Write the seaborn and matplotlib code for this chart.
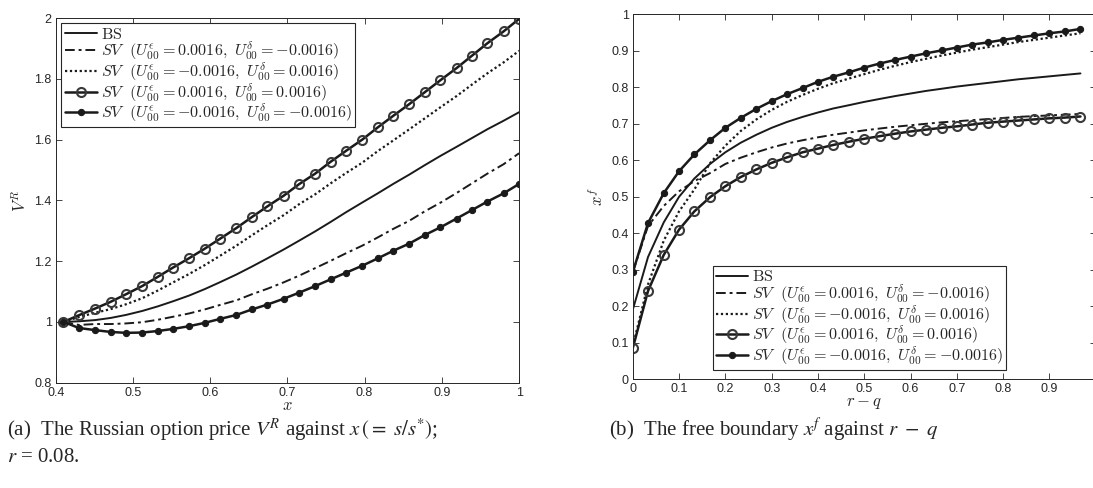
import matplotlib
matplotlib.use('Agg')
import matplotlib.pyplot as plt
import seaborn as sns
import pandas as pd

# (a) Russian option price V^R against x
x_left = [0.410, 0.430, 0.451, 0.471, 0.491, 0.512, 0.532, 0.552, 0.573, 0.593,
          0.613, 0.634, 0.654, 0.674, 0.695, 0.715, 0.736, 0.756, 0.776, 0.797,
          0.817, 0.837, 0.858, 0.878, 0.898, 0.919, 0.939, 0.959, 0.980, 1.000]
vr_bs = [1.000, 1.002, 1.006, 1.013, 1.023, 1.036, 1.051, 1.068, 1.087, 1.108,
         1.131, 1.156, 1.182, 1.209, 1.238, 1.267, 1.298, 1.329, 1.361, 1.393,
         1.423, 1.454, 1.485, 1.516, 1.546, 1.576, 1.605, 1.634, 1.662, 1.690]
vr_pm = [1.000, 0.990, 0.993, 0.993, 0.995, 0.999, 1.007, 1.017, 1.028, 1.041,
         1.056, 1.071, 1.091, 1.109, 1.130, 1.152, 1.177, 1.201, 1.226, 1.251,
         1.278, 1.306, 1.333, 1.364, 1.392, 1.424, 1.456, 1.488, 1.519, 1.555]
vr_mp = [1.000, 1.016, 1.030, 1.042, 1.058, 1.078, 1.103, 1.130, 1.158, 1.187,
         1.218, 1.251, 1.285, 1.318, 1.351, 1.387, 1.420, 1.456, 1.490, 1.524,
         1.562, 1.597, 1.634, 1.670, 1.706, 1.743, 1.781, 1.818, 1.854, 1.892]
vr_pp = [1.000, 1.022, 1.044, 1.066, 1.091, 1.118, 1.148, 1.179, 1.210, 1.241,
         1.274, 1.309, 1.345, 1.380, 1.415, 1.453, 1.488, 1.527, 1.563, 1.600,
         1.640, 1.678, 1.717, 1.756, 1.795, 1.835, 1.876, 1.917, 1.956, 1.997]
vr_mm = [1.000, 0.980, 0.973, 0.967, 0.964, 0.965, 0.970, 0.977, 0.986, 0.997,
         1.010, 1.023, 1.041, 1.057, 1.076, 1.096, 1.118, 1.140, 1.162, 1.185,
         1.209, 1.234, 1.258, 1.286, 1.311, 1.340, 1.368, 1.396, 1.423, 1.454]

# (b) free boundary x^f against r - q
rq = [0.000, 0.033, 0.067, 0.100, 0.133, 0.167, 0.200, 0.233, 0.267, 0.300,
      0.333, 0.367, 0.400, 0.433, 0.467, 0.500, 0.533, 0.567, 0.600, 0.633,
      0.667, 0.700, 0.733, 0.767, 0.800, 0.833, 0.867, 0.900, 0.933, 0.967]
xf_bs = [0.190, 0.335, 0.430, 0.500, 0.550, 0.590, 0.622, 0.648, 0.670, 0.689,
         0.705, 0.719, 0.731, 0.742, 0.751, 0.760, 0.768, 0.776, 0.783, 0.790,
         0.796, 0.802, 0.807, 0.812, 0.817, 0.822, 0.826, 0.830, 0.834, 0.838]
xf_pm = [0.293, 0.420, 0.475, 0.515, 0.543, 0.565, 0.590, 0.607, 0.622, 0.635,
         0.646, 0.655, 0.663, 0.670, 0.676, 0.682, 0.687, 0.692, 0.696, 0.700,
         0.704, 0.707, 0.710, 0.713, 0.716, 0.719, 0.721, 0.723, 0.725, 0.727]
xf_mp = [0.090, 0.260, 0.380, 0.460, 0.520, 0.592, 0.640, 0.680, 0.712, 0.738,
         0.760, 0.779, 0.796, 0.811, 0.824, 0.836, 0.848, 0.859, 0.869, 0.878,
         0.887, 0.895, 0.903, 0.910, 0.917, 0.924, 0.930, 0.936, 0.942, 0.948]
xf_pp = [0.085, 0.242, 0.341, 0.410, 0.460, 0.499, 0.529, 0.554, 0.575, 0.593,
         0.608, 0.622, 0.632, 0.642, 0.651, 0.659, 0.666, 0.673, 0.679, 0.684,
         0.689, 0.693, 0.698, 0.703, 0.706, 0.709, 0.712, 0.715, 0.717, 0.720]
xf_mm = [0.293, 0.428, 0.510, 0.570, 0.616, 0.655, 0.689, 0.716, 0.741, 0.762,
         0.781, 0.798, 0.815, 0.829, 0.841, 0.854, 0.865, 0.875, 0.884, 0.893,
         0.901, 0.909, 0.917, 0.923, 0.930, 0.936, 0.942, 0.948, 0.953, 0.960]

labels = [r'$\mathrm{BS}$',
          r'$SV\ \ (U_{00}^{\epsilon}=0.0016,\ U_{00}^{\delta}=-0.0016)$',
          r'$SV\ \ (U_{00}^{\epsilon}=-0.0016,\ U_{00}^{\delta}=0.0016)$',
          r'$SV\ \ (U_{00}^{\epsilon}=0.0016,\ U_{00}^{\delta}=0.0016)$',
          r'$SV\ \ (U_{00}^{\epsilon}=-0.0016,\ U_{00}^{\delta}=-0.0016)$']

xt_left = [0.4, 0.5, 0.6, 0.7, 0.8, 0.9, 1.0]
xt_left_lab = ['0.4', '0.5', '0.6', '0.7', '0.8', '0.9', '1']
yt_left = [0.8, 1.0, 1.2, 1.4, 1.6, 1.8, 2.0]
yt_left_lab = ['0.8', '1', '1.2', '1.4', '1.6', '1.8', '2']
xt_right = [0, 0.1, 0.2, 0.3, 0.4, 0.5, 0.6, 0.7, 0.8, 0.9]
xt_right_lab = ['0', '0.1', '0.2', '0.3', '0.4', '0.5', '0.6', '0.7', '0.8', '0.9']
yt_right = [0, 0.1, 0.2, 0.3, 0.4, 0.5, 0.6, 0.7, 0.8, 0.9, 1.0]
yt_right_lab = ['0', '0.1', '0.2', '0.3', '0.4', '0.5', '0.6', '0.7', '0.8', '0.9', '1']

sns.set_theme(style='ticks')
plt.rcParams['font.family'] = ['Liberation Sans', 'DejaVu Sans']
plt.rcParams['mathtext.fontset'] = 'cm'

# line styles in legend order
styles = [
    dict(color='k', lw=1.4, ls='-'),
    dict(color='k', lw=1.4, ls=(0, (5, 2, 1.5, 2))),
    dict(color='k', lw=1.6, ls=(0, (1, 1.2))),
    dict(color='k', lw=1.8, ls='-', marker='o', ms=6.5, mfc='none', mec='#3a3a3a', mew=1.5),
    dict(color='k', lw=1.8, ls='-', marker='o', ms=4.5, mfc='k', mec='k'),
]


def draw_panel(ax, x, series):
    df = pd.DataFrame({'x': x})
    for i, (vals, st) in enumerate(zip(series, styles)):
        df['y'] = vals
        sns.lineplot(data=df, x='x', y='y', ax=ax, label=labels[i], **st)
    ax.tick_params(direction='in', top=True, right=True, length=4, width=0.6,
                   labelsize=9, colors='#262626', pad=3)
    for sp in ax.spines.values():
        sp.set_color('#262626')
        sp.set_linewidth(0.7)


fig = plt.figure(figsize=(10.93, 4.88), dpi=100)
ax1 = fig.add_axes([0.0510, 0.2158, 0.4239, 0.7473])
ax2 = fig.add_axes([0.5789, 0.2227, 0.4236, 0.7480])

draw_panel(ax1, x_left, [vr_bs, vr_pm, vr_mp, vr_pp, vr_mm])
draw_panel(ax2, rq, [xf_bs, xf_pm, xf_mp, xf_pp, xf_mm])

ax1.set_xlim(0.4, 1.0)
ax1.set_ylim(0.8, 2.0)
ax1.set_xticks(xt_left, xt_left_lab)
ax1.set_yticks(yt_left, yt_left_lab)
ax1.set_xlabel(r'$x$', fontsize=12)
ax1.set_ylabel(r'$V^R$', fontsize=12)
ax1.xaxis.set_label_coords(0.5, -0.042)
ax1.yaxis.set_label_coords(-0.058, 0.5)

ax2.set_xlim(0, 1.0)
ax2.set_ylim(0, 1.0)
ax2.set_xticks(xt_right, xt_right_lab)
ax2.set_yticks(yt_right, yt_right_lab)
ax2.set_xlabel(r'$r-q$', fontsize=12)
ax2.set_ylabel(r'$x^f$', fontsize=12)
ax2.xaxis.set_label_coords(0.5, -0.046)
ax2.yaxis.set_label_coords(-0.058, 0.5)

leg_kw = dict(fontsize=11.6, frameon=True, fancybox=False, framealpha=1,
              edgecolor='#262626', handlelength=2.0, handletextpad=0.25,
              borderpad=0.2, labelspacing=-0.12, borderaxespad=0)
leg1 = ax1.legend(loc='upper left', bbox_to_anchor=(0.012, 0.985), **leg_kw)
leg2 = ax2.legend(loc='lower left', bbox_to_anchor=(0.173, 0.025), **leg_kw)
for leg in (leg1, leg2):
    leg.get_frame().set_linewidth(0.8)

cap_kw = dict(fontsize=15, family='Liberation Serif', math_fontfamily='stix',
              va='center', ha='left')
fig.text(7 / 1093, 1 - 430 / 488,
         r'(a)  The Russian option price $V^R$ against $x\,(=\ s/s^{*})$;', **cap_kw)
fig.text(7 / 1093, 1 - 458 / 488, r'$r$ = 0.08.', **cap_kw)
fig.text(609 / 1093, 1 - 430 / 488,
         r'(b)  The free boundary $x^f$ against $r\ -\ q$', **cap_kw)

fig.savefig('out.png', dpi=100)
plt.close(fig)
